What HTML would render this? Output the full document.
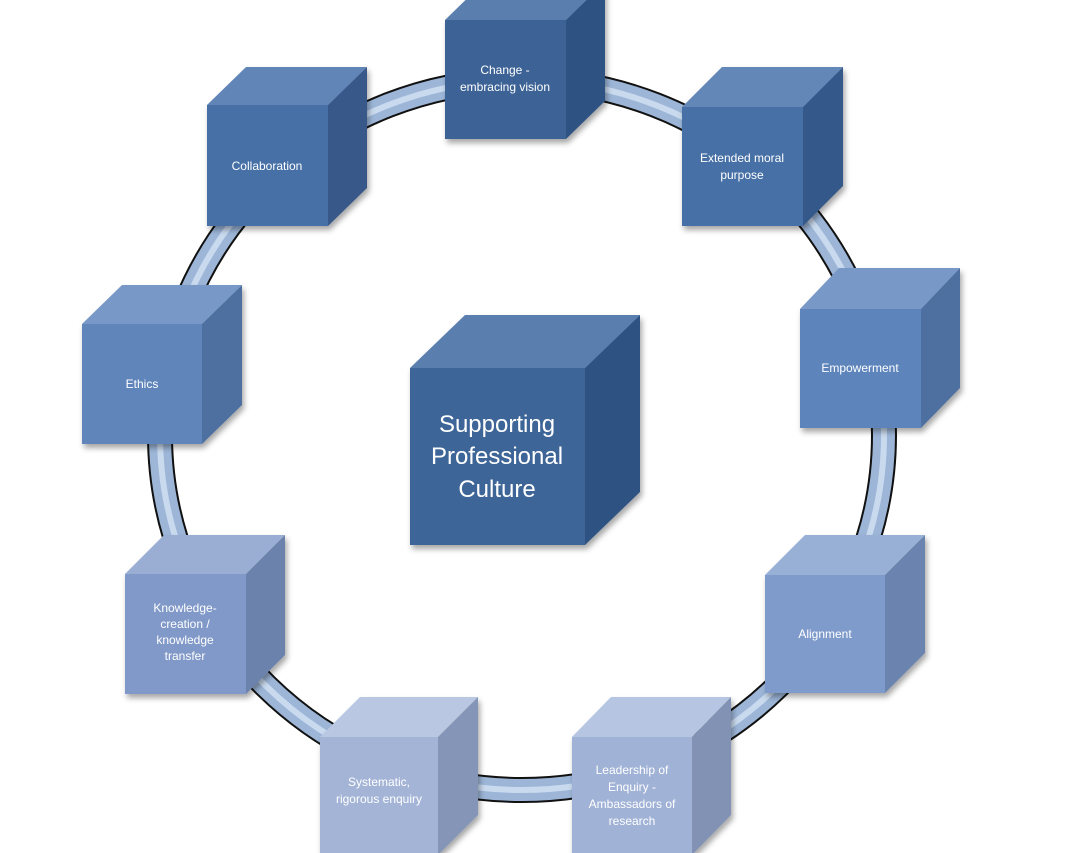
<!DOCTYPE html>
<html><head><meta charset="utf-8"><style>
html,body{margin:0;padding:0;background:#fff;}
svg{display:block}
text{font-family:"Liberation Sans",sans-serif;fill:#fff;text-anchor:middle}
</style></head><body>
<svg width="1072" height="853" viewBox="0 0 1072 853" xmlns="http://www.w3.org/2000/svg">
<defs>
<filter id="sh" x="-20%" y="-20%" width="150%" height="150%"><feDropShadow dx="2" dy="4" stdDeviation="3" flood-color="#000" flood-opacity="0.35"/></filter>
</defs>
<ellipse cx="522" cy="435" rx="362" ry="355" fill="none" stroke="#111" stroke-width="26"/>
<ellipse cx="522" cy="435" rx="362" ry="355" fill="none" stroke="#9DB6D8" stroke-width="22"/>
<ellipse cx="522" cy="435" rx="362" ry="355" fill="none" stroke="#C9DAEE" stroke-width="6"/>

<!-- cube helper drawn manually: front x,y,w,h, depth d -->
<!-- Change -->
<g filter="url(#sh)">
<polygon points="445,20 484,-18 605,-18 566,20" fill="#5A7FAE"/>
<polygon points="566,20 605,-18 605,101 566,139" fill="#2F5282"/>
<rect x="445" y="20" width="121" height="119" fill="#3D6496"/>
</g>
<text x="505" y="74" font-size="12">Change -</text>
<text x="505" y="91" font-size="12">embracing vision</text>

<!-- Extended -->
<g filter="url(#sh)">
<polygon points="682,107 722,67 843,67 803,107" fill="#6387B7"/>
<polygon points="803,107 843,67 843,186 803,226" fill="#36598A"/>
<rect x="682" y="107" width="121" height="119" fill="#4670A6"/>
</g>
<text x="742" y="162" font-size="12">Extended moral</text>
<text x="742" y="179" font-size="12">purpose</text>

<!-- Collaboration -->
<g filter="url(#sh)">
<polygon points="207,105 246,67 367,67 328,105" fill="#6185B6"/>
<polygon points="328,105 367,67 367,188 328,226" fill="#37598A"/>
<rect x="207" y="105" width="121" height="121" fill="#4770A7"/>
</g>
<text x="267" y="170" font-size="12">Collaboration</text>

<!-- Ethics -->
<g filter="url(#sh)">
<polygon points="82,324 122,285 242,285 202,324" fill="#7898C7"/>
<polygon points="202,324 242,285 242,405 202,444" fill="#4E70A0"/>
<rect x="82" y="324" width="120" height="120" fill="#5E85BB"/>
</g>
<text x="142" y="388" font-size="12">Ethics</text>

<!-- Empowerment -->
<g filter="url(#sh)">
<polygon points="800,309 839,268 960,268 921,309" fill="#7898C8"/>
<polygon points="921,309 960,268 960,388 921,428" fill="#4D6FA0"/>
<rect x="800" y="309" width="121" height="119" fill="#5D85BC"/>
</g>
<text x="860" y="372" font-size="12">Empowerment</text>

<!-- Knowledge -->
<g filter="url(#sh)">
<polygon points="125,574 164,535 285,535 246,574" fill="#9AAED4"/>
<polygon points="246,574 285,535 285,655 246,694" fill="#6B82AC"/>
<rect x="125" y="574" width="121" height="120" fill="#8199C8"/>
</g>
<text x="185" y="612" font-size="12">Knowledge-</text>
<text x="185" y="628" font-size="12">creation /</text>
<text x="185" y="644" font-size="12">knowledge</text>
<text x="185" y="660" font-size="12">transfer</text>

<!-- Alignment -->
<g filter="url(#sh)">
<polygon points="765,575 805,535 925,535 885,575" fill="#98AFD6"/>
<polygon points="885,575 925,535 925,653 885,693" fill="#6A83AF"/>
<rect x="765" y="575" width="120" height="118" fill="#7F9BCB"/>
</g>
<text x="825" y="638" font-size="12">Alignment</text>

<!-- Systematic -->
<g filter="url(#sh)">
<polygon points="320,737 360,697 478,697 438,737" fill="#B9C7E2"/>
<polygon points="438,737 478,697 478,815 438,855" fill="#8495B7"/>
<rect x="320" y="737" width="118" height="120" fill="#A3B4D7"/>
</g>
<text x="379" y="786" font-size="12">Systematic,</text>
<text x="379" y="803" font-size="12">rigorous enquiry</text>

<!-- Leadership -->
<g filter="url(#sh)">
<polygon points="572,737 611,697 731,697 692,737" fill="#B6C5E1"/>
<polygon points="692,737 731,697 731,815 692,855" fill="#8192B4"/>
<rect x="572" y="737" width="120" height="120" fill="#A0B2D6"/>
</g>
<text x="632" y="774" font-size="12">Leadership of</text>
<text x="632" y="791" font-size="12">Enquiry -</text>
<text x="632" y="808" font-size="12">Ambassadors of</text>
<text x="632" y="825" font-size="12">research</text>

<!-- Center -->
<g filter="url(#sh)">
<polygon points="410,368 465,315 640,315 585,368" fill="#5A7FAE"/>
<polygon points="585,368 640,315 640,492 585,545" fill="#2F5283"/>
<rect x="410" y="368" width="175" height="177" fill="#3E6597"/>
</g>
<text x="497" y="432" font-size="24">Supporting</text>
<text x="497" y="464" font-size="24">Professional</text>
<text x="497" y="497" font-size="24">Culture</text>
</svg>
</body></html>
